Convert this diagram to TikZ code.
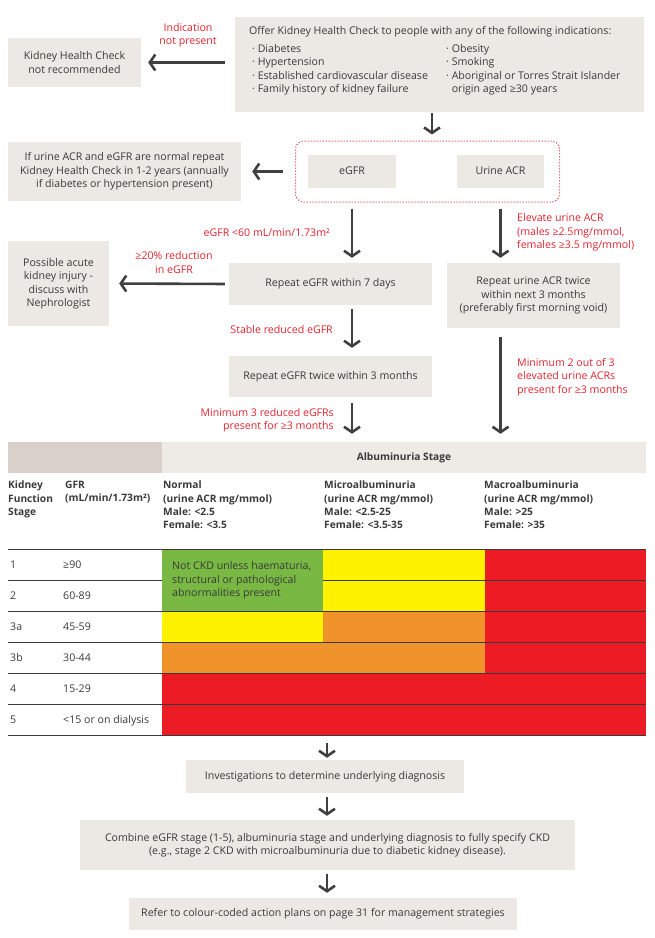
\documentclass[tikz,border=0pt]{standalone}
\usepackage{fontspec}
\setmainfont{Open Sans}
\usetikzlibrary{positioning,arrows.meta}

\definecolor{boxfill}{HTML}{ECE8E3}
\definecolor{hdrdark}{HTML}{D9D0CA}
\definecolor{hdrlight}{HTML}{EEEAE6}
\definecolor{txt}{HTML}{3A3A3A}
\definecolor{alert}{HTML}{E2242F}
\definecolor{arrgray}{HTML}{404040}
\definecolor{ckdgreen}{HTML}{78B843}
\definecolor{ckdyellow}{HTML}{FFF200}
\definecolor{ckdorange}{HTML}{F0932B}
\definecolor{ckdred}{HTML}{ED1C24}

\begin{document}
\begin{tikzpicture}[
  x=1pt, y=-1pt,
  font=\fontsize{10.6}{13.5}\selectfont, text=txt,
  box/.style={rectangle, fill=boxfill, inner sep=0pt, align=center},
  note/.style={text=alert, inner sep=0pt, align=center},
  plain/.style={inner sep=0pt, align=left},
  arr/.style={-{Straight Barb[length=5.5pt, width=16pt]}, draw=arrgray, line width=2.6pt},
  tline/.style={draw=txt, line width=0.6pt}
]
\useasboundingbox (0,0) rectangle (654,938);

% indication box
\node[box, minimum width=409, minimum height=95] (offer) at (439.5,64.5) {};
\node[plain, anchor=base west] (offerhd) at (249,34)
  {Offer Kidney Health Check to people with any of the following indications:};
\node[plain, anchor=north west] (indl) at (252,44)
  {· Diabetes\\· Hypertension\\· Established cardiovascular disease\\· Family history of kidney failure};
\node[plain, anchor=north west] (indr) at (446,44)
  {· Obesity\\· Smoking\\· Aboriginal or Torres Strait Islander\\\phantom{· }origin aged ≥30 years};

% not recommended
\node[box, minimum width=133, minimum height=49] (notrec) at (74.5,62.5)
  {Kidney Health Check\\not recommended};
\node[note] (nolbl) at (188,35) {Indication\\not present};

% tests
\node[rectangle, draw=alert, dotted, line width=1pt, rounded corners=8pt,
      minimum width=264, minimum height=61] (tests) at (427.5,171.5) {};
\node[box, minimum width=88, minimum height=33] (egfr) at (352,171) {eGFR};
\node[box, minimum width=87, minimum height=33] (uacr) at (500.5,171) {Urine ACR};

% normal result
\node[box, minimum width=233, minimum height=59] (normal) at (124.5,171.5)
  {If urine ACR and eGFR are normal repeat\\Kidney Health Check in 1-2 years (annually\\if diabetes or hypertension present)};

% repeats
\node[box, minimum width=203, minimum height=42] (rep7) at (330.5,284) {Repeat eGFR within 7 days};
\node[box, minimum width=173, minimum height=65] (repacr) at (533.5,295.5)
  {Repeat urine ACR twice\\within next 3 months\\(preferably first morning void)};
\node[box, minimum width=101, minimum height=85] (aki) at (58.5,283.5)
  {Possible acute\\kidney injury -\\discuss with\\Nephrologist};
\node[box, minimum width=203, minimum height=41] (rep3m) at (330.5,376.5) {Repeat eGFR twice within 3 months};

% red labels
\node[note, anchor=base east] (lowlbl) at (330,236) {eGFR <60 mL/min/1.73m²};
\node[note, anchor=west, align=left] (acrlbl) at (517,232.5)
  {Elevate urine ACR\\(males ≥2.5mg/mmol,\\females ≥3.5 mg/mmol)};
\node[note] (redlbl) at (174,262.5) {≥20\% reduction\\in eGFR};
\node[note, anchor=base east] (stablbl) at (333,333.5) {Stable reduced eGFR};
\node[note, anchor=east, align=right] (min3lbl) at (334,420) {Minimum 3 reduced eGFRs\\present for ≥3 months};
\node[note, anchor=west, align=left] (min2lbl) at (517,377)
  {Minimum 2 out of 3\\elevated urine ACRs\\present for ≥3 months};

% table header
\fill[hdrdark] (8,442) rectangle (162,473);
\node[rectangle, fill=hdrlight, inner sep=0pt, minimum width=484, minimum height=31,
      font=\fontsize{10.2}{13.5}\selectfont\bfseries] (alb) at (404,457.5) {Albuminuria Stage};
\begin{scope}[every node/.style={plain, anchor=north west, font=\fontsize{10.2}{13.3}\selectfont\bfseries}]
  \node (colst) at (8,481) {Kidney\\Function\\Stage};
  \node (colgfr) at (65,481) {GFR\\(mL/min/1.73m²)};
  \node (colnorm) at (163,481) {Normal\\(urine ACR mg/mmol)\\Male: <2.5\\Female: <3.5};
  \node (colmicro) at (324,481) {Microalbuminuria\\(urine ACR mg/mmol)\\Male: <2.5-25\\Female: <3.5-35};
  \node (colmacro) at (484,481) {Macroalbuminuria\\(urine ACR mg/mmol)\\Male: >25\\Female: >35};
\end{scope}

% colour cells
\fill[ckdgreen] (162,549) rectangle (323,611);
\fill[ckdyellow] (323,549) rectangle (485,611);
\fill[ckdred] (485,549) rectangle (646,642);
\fill[ckdyellow] (162,611) rectangle (323,642);
\fill[ckdorange] (323,611) rectangle (485,642);
\fill[ckdorange] (162,642) rectangle (485,673);
\fill[ckdred] (485,642) rectangle (646,673);
\fill[ckdred] (162,673) rectangle (646,735);
\node[plain, anchor=west] (notckd) at (172,580.5)
  {Not CKD unless haematuria,\\structural or pathological\\abnormalities present};

% row lines
\draw[tline] (8,580) -- (162,580) (323,580) -- (646,580);
\foreach \yl in {611,642,673,704} \draw[tline] (8,\yl) -- (646,\yl);
\draw[tline, line width=1pt] (8,549) -- (646,549);
\draw[tline, line width=1pt] (8,735) -- (646,735);
\coordinate (tblbot) at (327,735);

% row labels
\foreach \st/\gfr/\yc [count=\k] in {1/{≥90}/564.5, 2/60-89/595.5, 3a/45-59/626.5,
    3b/30-44/657.5, 4/15-29/688.5, 5/{<15 or on dialysis}/719.5} {
  \node[plain, anchor=base west] (stg\k) at (10,\yc+3.5) {\st};
  \node[plain, anchor=base west] (gfr\k) at (63,\yc+3.5) {\gfr};
}

% bottom steps
\node[box, minimum width=278, minimum height=33] (inv) at (325,776.5)
  {Investigations to determine underlying diagnosis};
\node[box, minimum width=495, minimum height=50] (comb) at (327.5,845)
  {Combine eGFR stage (1-5), albuminuria stage and underlying diagnosis to fully specify CKD\\(e.g., stage 2 CKD with microalbuminuria due to diabetic kidney disease).};
\node[box, minimum width=388, minimum height=32] (refer) at (323,914)
  {Refer to colour-coded action plans on page 31 for management strategies};

% arrows
\draw[arr, shorten <=10pt, shorten >=7pt] (offer.west |- notrec) -- (notrec.east);
\draw[arr, shorten <=1pt, shorten >=6pt] (offer.south -| 432,0) -- (tests.north -| 432,0);
\draw[arr, shorten <=12pt, shorten >=11pt] (tests.west |- normal) -- (normal.east);
\draw[arr, shorten <=6pt, shorten >=5pt] (egfr.south |- tests.south) -- (egfr.south |- rep7.north);
\draw[arr, shorten <=6pt, shorten >=5pt] (uacr.south |- tests.south) -- (uacr.south |- repacr.north);
\draw[arr, shorten <=4pt, shorten >=10pt] (rep7.west) -- (aki.east);
\draw[arr, shorten <=4pt, shorten >=8pt] (egfr.south |- rep7.south) -- (egfr.south |- rep3m.north);
\draw[arr, shorten <=6pt, shorten >=8pt] (egfr.south |- rep3m.south) -- (egfr.south |- alb.north);
\draw[arr, shorten <=9pt, shorten >=8pt] (uacr.south |- repacr.south) -- (uacr.south |- alb.north);
\draw[arr, shorten <=8pt, shorten >=2pt] (tblbot) -- (tblbot |- inv.north);
\draw[arr, shorten <=4pt, shorten >=4pt] (inv.south -| tblbot) -- (comb.north -| tblbot);
\draw[arr, shorten <=4pt, shorten >=5pt] (comb.south -| tblbot) -- (refer.north -| tblbot);
\end{tikzpicture}
\end{document}
